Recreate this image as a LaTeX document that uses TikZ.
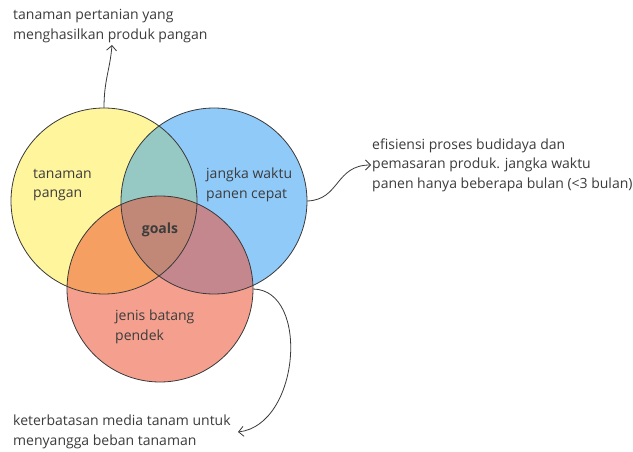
\documentclass[tikz,border=0pt]{standalone}
\usepackage{fontspec}
\setmainfont{Open Sans}
\usetikzlibrary{arrows.meta}
\definecolor{cyel}{HTML}{FFF59D}
\definecolor{cblu}{HTML}{90CAF9}
\definecolor{cred}{HTML}{F5A08F}
\definecolor{cyb}{HTML}{96C8C4}
\definecolor{cyr}{HTML}{F5A062}
\definecolor{cbr}{HTML}{C5878E}
\definecolor{call}{HTML}{C18878}
\definecolor{ctxt}{HTML}{3C3C3C}
\definecolor{cline}{HTML}{3A3A3A}
\tikzset{
  lbl/.style={text=ctxt, font=\fontsize{14}{19.5}\selectfont, align=left, inner sep=0pt, anchor=west},
  ring/.style={draw=cline, line width=0.8pt},
  conn/.style={draw=cline, line width=0.8pt, -{Straight Barb[length=5pt,width=10pt]}},
  hole/.style={circle, minimum size=186pt, inner sep=0pt, draw=none}
}
\begin{document}
\begin{tikzpicture}[x=1pt,y=-1pt]
\useasboundingbox (0,0) rectangle (633,452);
\fill[white] (0,0) rectangle (633,452);
\def\rr{93}
\coordinate (cy) at (104,201);
\coordinate (cb) at (214,201);
\coordinate (cr) at (160,289);
\node[hole] (Y) at (cy) {};
\node[hole] (B) at (cb) {};
\node[hole] (R) at (cr) {};
% base fills
\fill[cyel] (cy) circle (\rr);
\fill[cblu] (cb) circle (\rr);
\fill[cred] (cr) circle (\rr);
\begin{scope}\clip (cy) circle (\rr); \fill[cyb] (cb) circle (\rr); \end{scope}
\begin{scope}\clip (cy) circle (\rr); \fill[cyr] (cr) circle (\rr); \end{scope}
\begin{scope}\clip (cb) circle (\rr); \fill[cbr] (cr) circle (\rr); \end{scope}
\begin{scope}\clip (cy) circle (\rr); \clip (cb) circle (\rr); \fill[call] (cr) circle (\rr); \end{scope}
% outlines
\draw[ring] (cy) circle (\rr);
\draw[ring] (cb) circle (\rr);
\draw[ring] (cr) circle (\rr);
% labels
\node[lbl] (ty) at (33,185) {tanaman\\pangan};
\node[lbl] (tb) at (206,185) {jangka waktu\\panen cepat};
\node[lbl, anchor=center, font=\fontsize{14}{19.5}\selectfont\bfseries] (tg) at (160,230) {goals};
\node[lbl] (tr) at (115,327) {jenis batang\\pendek};
\node[lbl] (n1) at (13,26) {tanaman pertanian yang\\menghasilkan produk pangan};
\node[lbl] (n2) at (372,165) {efisiensi proses budidaya dan\\pemasaran produk. jangka waktu\\panen hanya beberapa bulan (<3 bulan)};
\node[lbl] (n3) at (13,432) {keterbatasan media tanam untuk\\menyangga beban tanaman};
% connectors
\coordinate (a1) at (112,45);
\coordinate (a2) at (371,165);
\coordinate (a3) at (238,432);
\draw[conn] (Y.north) .. controls (104,80) and (110,70) .. (a1);
\draw[conn] (B.east) .. controls (340,200) and (335,165) .. (a2);
\draw[conn] (R.east) .. controls (310,290) and (300,425) .. (a3);
\end{tikzpicture}
\end{document}
